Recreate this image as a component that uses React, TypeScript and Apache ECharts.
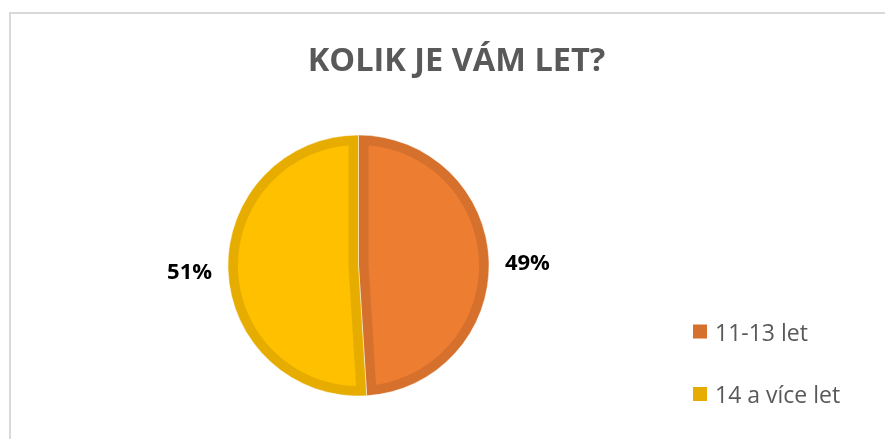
import React, { useEffect, useRef } from "react";
import * as echarts from "echarts";

const titleText = "KOLIK JE VÁM LET?";
const categories = ["11-13 let", "14 a více let"];
const values = [49, 51];
const fillColors = ["#ED7D31", "#FFC000"];
const borderColors = ["#D5702D", "#E6AD00"];

export default function App() {
  const ref = useRef<HTMLDivElement>(null);
  useEffect(() => {
    const chart = echarts.init(ref.current as HTMLDivElement, null, { renderer: "svg" });
    const CX = 358.5;
    const CY = 265.5;
    const R = 130.5;
    const W = 10;
    const RIN = R - W;
    const total = values.reduce((a, b) => a + b, 0);
    const pt = (phi: number, r: number) => [CX + r * Math.sin(phi), CY - r * Math.cos(phi)];

    chart.setOption({
      animation: false,
      title: {
        text: titleText,
        left: 451.5,
        textAlign: "center",
        top: 37,
        textStyle: { fontFamily: "Open Sans", fontWeight: "bold", fontSize: 32.5, color: "#595959" },
      },
      legend: {
        data: categories,
        orient: "vertical",
        left: 693,
        top: 320,
        padding: 0,
        itemWidth: 14,
        itemHeight: 14,
        itemGap: 39.5,
        icon: "rect",
        itemStyle: { borderWidth: 0 },
        textStyle: { fontFamily: "Open Sans", fontSize: 23, color: "#595959", padding: [0, 0, 0, 3] },
      },
      graphic: [
        { type: "line", shape: { x1: 9, y1: 13, x2: 885, y2: 13 }, style: { stroke: "#D9D9D9", lineWidth: 2 }, silent: true },
        { type: "line", shape: { x1: 10, y1: 12, x2: 10, y2: 439 }, style: { stroke: "#D9D9D9", lineWidth: 2 }, silent: true },
      ],
      series: [
        {
          type: "pie",
          name: "Věk",
          center: [CX, CY],
          radius: R,
          startAngle: 90,
          clockwise: true,
          avoidLabelOverlap: false,
          silent: true,
          data: categories.map((c, i) => ({ name: c, value: values[i], itemStyle: { color: borderColors[i] } })),
          itemStyle: { borderColor: "rgba(255,255,255,0.45)", borderWidth: 1 },
          label: {
            show: true,
            position: "outside",
            formatter: (p: any) => Math.round(p.percent) + "%",
            fontFamily: "Open Sans",
            fontWeight: "bold",
            fontSize: 22,
            color: "#000000",
            distanceToLabelLine: 5,
          },
          labelLine: { show: false, length: 11, length2: 0 },
          emphasis: { disabled: true },
        },
        {
          type: "custom",
          coordinateSystem: "none",
          silent: true,
          z: 3,
          data: values,
          renderItem: (params: any) => {
            const i = params.dataIndex;
            let before = 0;
            for (let k = 0; k < i; k++) before += values[k];
            const phi0 = (before / total) * Math.PI * 2;
            const phi1 = ((before + values[i]) / total) * Math.PI * 2;
            const theta = phi1 - phi0;
            const delta = Math.asin(W / RIN);
            const pts: number[][] = [];
            const N = 120;
            const a0 = phi0 + delta;
            const a1 = phi1 - delta;
            for (let s = 0; s <= N; s++) {
              pts.push(pt(a0 + ((a1 - a0) * s) / N, RIN));
            }
            if (theta <= Math.PI) {
              pts.push(pt((phi0 + phi1) / 2, W / Math.sin(theta / 2)));
            } else {
              pts.push(pt(phi1 - Math.PI / 2, W));
              pts.push(pt(phi0 + Math.PI / 2, W));
            }
            return { type: "polygon", shape: { points: pts }, style: { fill: fillColors[i] } };
          },
        },
      ],
    });
    return () => chart.dispose();
  }, []);
  return <div ref={ref} style={{ position: "fixed", left: 0, top: 0, width: 885, height: 439 }} />;
}
